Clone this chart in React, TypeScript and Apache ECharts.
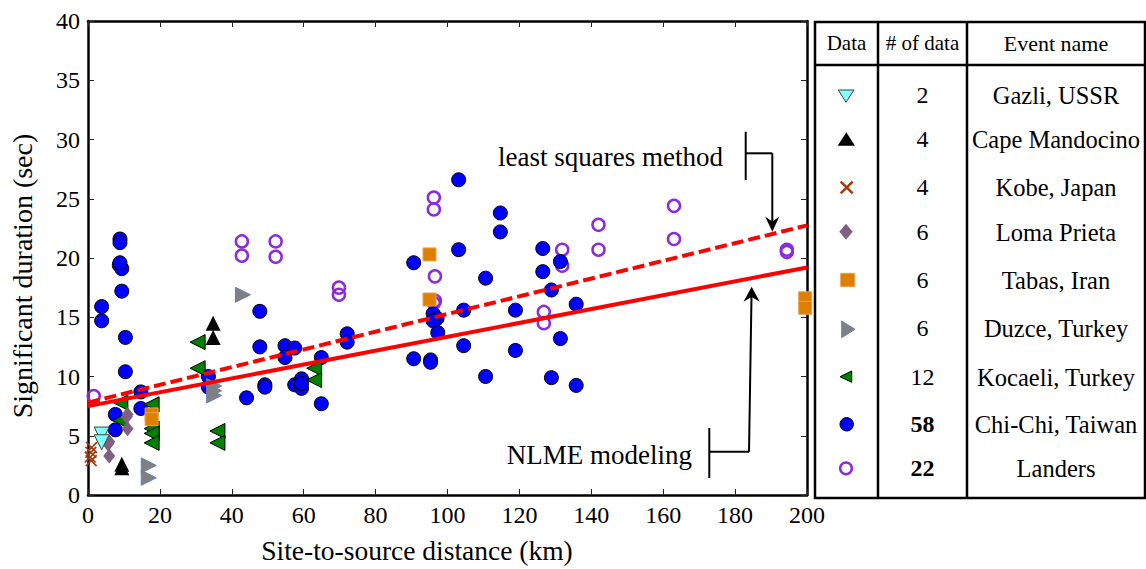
import React, { useEffect, useRef } from "react";
import * as echarts from "echarts";

const FONT = '"Liberation Serif", "Times New Roman", serif';

const gazli = [[3.8, 5.1], [3.8, 4.45]];
const capeMendocino = [[34.8, 14.5], [34.8, 13.3], [9.4, 2.6], [9.4, 2.3]];
const kobe = [[1.0, 4.0], [0.8, 3.6], [0.6, 3.2], [0.9, 2.9]];
const lomaPrieta = [[11.0, 6.8], [11.0, 5.6], [5.9, 4.5], [5.9, 3.3], [10.8, 6.6], [5.6, 4.3]];
const tabas = [[17.7, 6.8], [17.7, 6.4], [95, 20.3], [95, 16.5], [199.5, 16.6], [199.5, 15.8]];
const duzce = [[43.1, 16.9], [35.1, 9.2], [35.1, 8.4], [16.9, 2.5], [16.9, 1.45], [35.1, 8.8]];
const kocaeli = [
  [30.5, 12.9], [30.5, 10.7], [17.7, 7.65], [17.7, 5.6], [17.7, 5.2], [17.7, 4.4],
  [36, 5.4], [36, 4.4], [9, 7.8], [9, 6.3], [62.9, 10.7], [62.9, 9.7],
];
const chiChi = [
  [8.9, 21.6], [8.9, 21.3], [8.7, 19.4], [9.4, 19.1], [8.9, 19.6], [9.4, 17.2],
  [3.8, 15.9], [3.8, 14.7], [10.4, 13.3], [10.4, 10.4], [14.7, 8.7], [14.7, 7.3],
  [7.6, 6.8], [7.6, 5.5], [47.8, 15.5], [47.8, 12.5], [33.5, 10.0], [33.5, 9.1],
  [44.1, 8.2], [49.2, 9.3], [49.2, 9.1], [54.8, 12.6], [57.5, 12.4], [54.8, 11.6],
  [64.9, 11.6], [72.1, 13.6], [72.1, 12.9], [57.5, 9.3], [59.4, 9.8], [59.4, 9.0],
  [59.4, 9.4], [64.9, 7.7], [90.6, 19.6], [90.6, 11.5], [95.3, 11.4], [95.3, 11.2],
  [96, 15.3], [97.1, 14.9], [96, 14.7], [97.3, 13.7], [104.5, 15.6], [104.5, 12.6],
  [103.1, 26.6], [103.1, 20.7], [114.7, 23.8], [114.7, 22.2], [110.6, 18.3], [126.5, 20.8],
  [126.5, 18.85], [131.4, 19.7], [128.9, 17.3], [118.9, 15.6], [135.8, 16.1], [118.9, 12.2],
  [131.4, 13.2], [110.6, 10.0], [128.9, 9.9], [135.8, 9.25],
];
const landers = [
  [42.8, 21.4], [42.8, 20.2], [52.2, 21.4], [52.2, 20.1], [1.6, 8.35],
  [69.8, 17.5], [69.8, 16.9], [96.2, 25.1], [96.2, 24.1], [96.5, 18.45], [96.5, 16.4],
  [126.8, 15.45], [126.8, 14.5], [131.9, 20.7], [131.9, 19.35], [142, 22.8], [142, 20.7],
  [163, 24.4], [163, 21.6], [194.4, 20.7], [194.4, 20.5], [96.2, 16.2],
];

const nlmeLine = [[0, 7.5], [200, 19.2]];
const leastSquaresLine = [[0, 7.8], [200, 22.75]];

const eventNames = [
  "Gazli, USSR", "Cape Mandocino", "Kobe, Japan", "Loma Prieta", "Tabas, Iran",
  "Duzce, Turkey", "Kocaeli, Turkey", "Chi-Chi, Taiwan", "Landers",
];
const eventCounts = ["2", "4", "4", "6", "6", "6", "12", "58", "22"];
const boldCounts = [false, false, false, false, false, false, false, true, true];
const headers = ["Data", "# of data", "Event name"];

const crossPath = "path://M2,0 L10,8 L18,0 L20,2 L12,10 L20,18 L18,20 L10,12 L2,20 L0,18 L8,10 L0,2 Z";

function text(t: string, x: number, y: number, size: number, align = "center", bold = false) {
  return {
    type: "text",
    x,
    y,
    style: {
      text: t,
      font: `${bold ? "bold " : ""}${size}px ${FONT}`,
      fill: "#000",
      textAlign: align,
      textVerticalAlign: "middle",
      align,
      verticalAlign: "middle",
    },
    z: 100,
  };
}

function line(x1: number, y1: number, x2: number, y2: number, w = 2.5, color = "#000") {
  return {
    type: "line",
    shape: { x1, y1, x2, y2 },
    style: { stroke: color, lineWidth: w },
    z: 100,
  };
}

function poly(points: number[][], fill: string, stroke = "none", lw = 0) {
  return {
    type: "polygon",
    shape: { points },
    style: { fill, stroke, lineWidth: lw },
    z: 100,
  };
}

export default function App() {
  const ref = useRef<HTMLDivElement>(null);

  useEffect(() => {
    if (!ref.current) return;
    const chart = echarts.init(ref.current, undefined, { renderer: "svg" });

    const rowsY = [95, 139, 187, 232, 280, 328, 377, 424, 468];

    const graphics: any[] = [
      {
        type: "rect",
        shape: { x: 815, y: 22, width: 330, height: 476 },
        style: { fill: "none", stroke: "#000", lineWidth: 2.5 },
        z: 100,
      },
      line(878, 22, 878, 498),
      line(967, 22, 967, 498),
      line(815, 65, 1145, 65),
      text(headers[0], 846.5, 43, 21),
      text(headers[1], 922.5, 43, 21),
      text(headers[2], 1056, 43, 22),
      poly([[838.3, 90], [854, 90], [846, 102.3]], "#80ffff", "#404040", 1),
      poly([[837.7, 145.7], [855, 145.7], [846.3, 132.3]], "#000"),
      line(840.7, 181.7, 852.7, 193.3, 2.5, "#a33a0b"),
      line(852.7, 181.7, 840.7, 193.3, 2.5, "#a33a0b"),
      poly([[846, 223.7], [852.7, 231.7], [846, 239.7], [839.3, 231.7]], "#7f6080"),
      {
        type: "rect",
        shape: { x: 840.7, y: 273.3, width: 14, height: 13.4 },
        style: { fill: "#df7f00", stroke: "#e8a050", lineWidth: 1 },
        z: 100,
      },
      poly([[841.7, 321], [841.7, 337.7], [855, 329.3]], "#808080", "#6a7fb5", 1),
      poly([[840, 376.7], [851.7, 371], [851.7, 382.3]], "#008000", "#000", 1),
      {
        type: "circle",
        shape: { cx: 846.7, cy: 424.3, r: 6.7 },
        style: { fill: "#0000ff", stroke: "#000", lineWidth: 1 },
        z: 100,
      },
      {
        type: "circle",
        shape: { cx: 846, cy: 468.3, r: 5.8 },
        style: { fill: "none", stroke: "#8a2be2", lineWidth: 2.5 },
        z: 100,
      },
      text("least squares method", 498, 157, 27, "left"),
      line(745.7, 131.7, 745.7, 180, 2),
      line(745.7, 153.3, 772.3, 153.3, 2),
      line(772.3, 153.3, 772.3, 222, 2),
      poly([[772.3, 231.7], [765.3, 216.7], [772.3, 221.5], [779.3, 216.7]], "#000"),
      text("NLME modeling", 506.7, 455, 27, "left"),
      line(709.3, 428, 709.3, 478, 2),
      line(709.3, 451.7, 749, 451.7, 2),
      line(749, 451.7, 751.5, 296, 2),
      poly([[751.7, 286.7], [743.5, 301.7], [751.6, 297], [759.7, 301.7]], "#000"),
    ];

    rowsY.forEach((y, i) => {
      graphics.push(text(eventCounts[i], 922.5, y, 24, "center", boldCounts[i]));
      graphics.push(text(eventNames[i], 1056, y, 24.5, "center"));
    });

    const axisCommon = {
      type: "value",
      axisLine: { show: true, onZero: false, lineStyle: { color: "#000", width: 2.5 } },
      axisTick: { show: true, inside: true, length: 6, lineStyle: { color: "#222", width: 1 } },
      splitLine: { show: false },
    };

    const scatter = (name: string, data: number[][], symbol: string, size: any, style: any, rotate = 0) => ({
      name,
      type: "scatter",
      data,
      symbol,
      symbolSize: size,
      symbolRotate: rotate,
      itemStyle: { opacity: 1, ...style },
      z: 3,
    });

    chart.setOption({
      animation: false,
      backgroundColor: "#fff",
      grid: { left: 87, top: 21, width: 720, height: 479, containLabel: false },
      xAxis: [
        {
          ...axisCommon,
          position: "bottom",
          min: 0,
          max: 200,
          interval: 20,
          axisLabel: { color: "#000", fontSize: 24, fontFamily: FONT, margin: 8 },
          name: "Site-to-source distance (km)",
          nameLocation: "middle",
          nameGap: 41,
          nameTextStyle: { color: "#000", fontSize: 27.5, fontFamily: FONT, padding: [0, 61, 0, 0] },
        },
        {
          ...axisCommon,
          position: "top",
          min: 0,
          max: 200,
          interval: 20,
          axisLabel: { show: false },
        },
      ],
      yAxis: [
        {
          ...axisCommon,
          position: "left",
          min: 0,
          max: 40,
          interval: 5,
          axisLabel: { color: "#000", fontSize: 24, fontFamily: FONT, margin: 8 },
          name: "Significant duration (sec)",
          nameLocation: "middle",
          nameGap: 52,
          nameTextStyle: { color: "#000", fontSize: 28, fontFamily: FONT, padding: [0, 36, 0, 0] },
        },
        {
          ...axisCommon,
          position: "right",
          min: 0,
          max: 40,
          interval: 5,
          axisLabel: { show: false },
        },
      ],
      series: [
        scatter("Landers", landers, "circle", 12, { color: "rgba(0,0,0,0)", borderColor: "#8a2be2", borderWidth: 2.5 }),
        scatter("Chi-Chi, Taiwan", chiChi, "circle", 14, { color: "#0000ff", borderColor: "#000", borderWidth: 1 }),
        scatter("Kocaeli, Turkey", kocaeli, "triangle", 15, { color: "#008000", borderColor: "#000", borderWidth: 1 }, 90),
        scatter("Duzce, Turkey", duzce, "triangle", 15, { color: "#808080", borderColor: "#6a7fb5", borderWidth: 1 }, -90),
        scatter("Tabas, Iran", tabas, "rect", 13, { color: "#df7f00", borderColor: "#e8a050", borderWidth: 1 }),
        scatter("Loma Prieta", lomaPrieta, "diamond", [12, 15], { color: "#7f6080" }),
        scatter("Kobe, Japan", kobe, crossPath, 12, { color: "#a33a0b" }),
        scatter("Cape Mandocino", capeMendocino, "triangle", 15, { color: "#000" }),
        scatter("Gazli, USSR", gazli, "triangle", 15, { color: "#80ffff", borderColor: "#404040", borderWidth: 1 }, 180),
        {
          name: "NLME modeling",
          type: "line",
          data: nlmeLine,
          symbol: "none",
          lineStyle: { color: "#ff0000", width: 4 },
          z: 5,
        },
        {
          name: "least squares method",
          type: "line",
          data: leastSquaresLine,
          symbol: "none",
          lineStyle: { color: "#ff0000", width: 4, type: [12, 5] },
          z: 5,
        },
      ],
      graphic: graphics,
    });

    return () => chart.dispose();
  }, []);

  return (
    <div
      ref={ref}
      style={{ position: "fixed", left: 0, top: 0, width: 1146, height: 569, background: "#fff" }}
    />
  );
}
